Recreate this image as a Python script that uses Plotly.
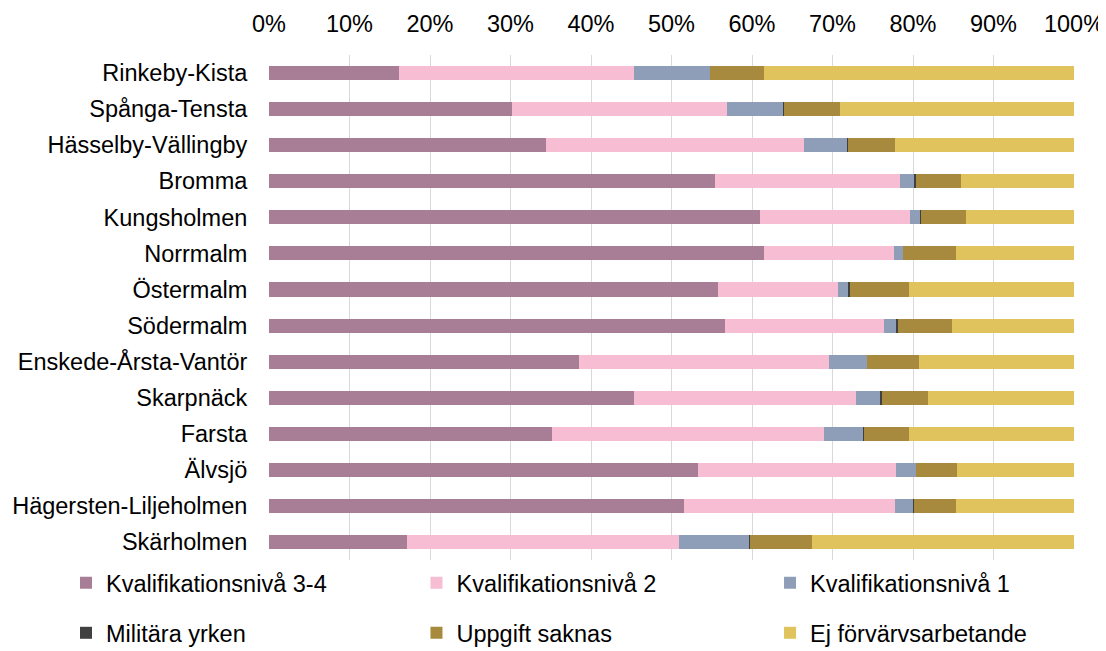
import plotly.graph_objects as go

# districts, top to bottom as shown
districts = [
    "Rinkeby-Kista", "Spånga-Tensta", "Hässelby-Vällingby", "Bromma",
    "Kungsholmen", "Norrmalm", "Östermalm", "Södermalm",
    "Enskede-Årsta-Vantör", "Skarpnäck", "Farsta", "Älvsjö",
    "Hägersten-Liljeholmen", "Skärholmen",
]

# shares in percent
niva_3_4 = [16.2, 30.2, 34.4, 55.4, 61.0, 61.5, 55.8, 56.6, 38.5, 45.4, 35.2, 53.3, 51.6, 17.2]
niva_2 = [29.1, 26.7, 32.1, 23.0, 18.6, 16.2, 14.9, 19.8, 31.1, 27.5, 33.7, 24.6, 26.2, 33.7]
niva_1 = [9.5, 7.0, 5.4, 1.85, 1.3, 1.1, 1.2, 1.6, 4.7, 3.1, 5.0, 2.5, 2.2, 8.8]
militara = [0.0, 0.1, 0.02, 0.2, 0.1, 0.05, 0.3, 0.15, 0.02, 0.1, 0.02, 0.02, 0.1, 0.02]
saknas = [6.7, 6.9, 5.9, 5.5, 5.6, 6.5, 7.3, 6.65, 6.4, 5.8, 5.6, 5.1, 5.3, 7.8]
ej_forv = [38.5, 29.1, 22.2, 14.1, 13.4, 14.7, 20.5, 15.2, 19.3, 18.1, 20.5, 14.5, 14.6, 32.5]

series = [
    ("Kvalifikationsnivå 3-4", niva_3_4, "#A87E96"),
    ("Kvalifikationsnivå 2", niva_2, "#F7BDD2"),
    ("Kvalifikationsnivå 1", niva_1, "#8E9EB8"),
    ("Militära yrken", militara, "#404040"),
    ("Uppgift saknas", saknas, "#A88A3E"),
    ("Ej förvärvsarbetande", ej_forv, "#E0C35C"),
]

FONT = "Liberation Sans, Arial, sans-serif"
FS = 23.5

# legend slots (3 columns x 2 rows), paper coords
leg_x = [-0.2522, 0.1832, 0.6224]
leg_y = [-0.0455, -0.1446]

fig = go.Figure()
layout_legends = {}
for i, (name, vals, col) in enumerate(series):
    lname = "legend" if i == 0 else f"legend{i+1}"
    fig.add_trace(go.Bar(
        y=districts, x=vals, name=name, orientation="h",
        marker=dict(color=col, line=dict(width=0)),
        legend=lname,
    ))
    layout_legends[lname] = dict(
        x=leg_x[i % 3], y=leg_y[i // 3],
        xanchor="left", yanchor="middle",
        orientation="h", bgcolor="rgba(0,0,0,0)",
        font=dict(family=FONT, size=FS, color="#000000"),
    )

# page body has an 8px margin, so margins are shifted by 8px;
# the figure is a bit taller than the window so the last legend row isn't clipped
fig.update_layout(
    barmode="stack",
    barnorm="percent",
    bargap=0.61,
    width=1098, height=660, autosize=False,
    margin=dict(l=261, r=32, t=47, b=108, autoexpand=False),
    paper_bgcolor="white", plot_bgcolor="white",
    font=dict(family=FONT, size=FS, color="#000000"),
    showlegend=True,
    **layout_legends,
)

fig.update_xaxes(
    range=[0, 100], dtick=10, ticksuffix="%", side="top",
    showgrid=True, gridcolor="#D9D9D9", gridwidth=1, zeroline=False,
    showline=False, ticks="outside", ticklen=13, tickcolor="rgba(0,0,0,0)",
    tickfont=dict(family=FONT, size=FS), automargin=False,
)
fig.update_yaxes(
    autorange="reversed", showgrid=False, showline=False, zeroline=False,
    ticks="outside", ticklen=16, tickcolor="rgba(0,0,0,0)",
    tickfont=dict(family=FONT, size=FS), automargin=False,
)

fig.write_html("out.html")
